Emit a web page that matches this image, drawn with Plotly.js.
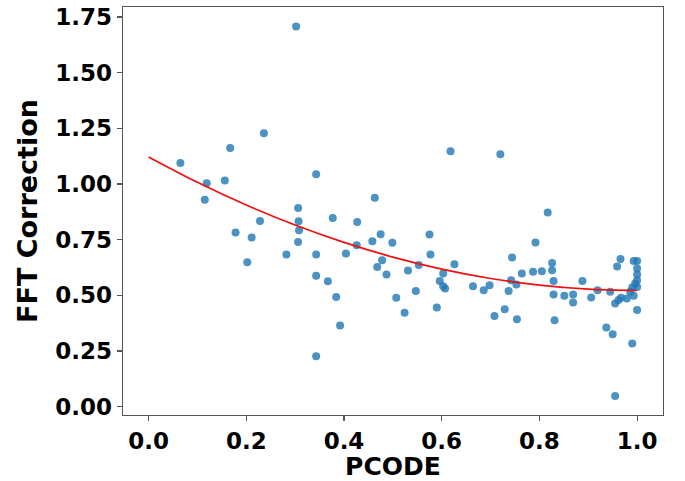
<!DOCTYPE html>
<html>
<head>
<meta charset="utf-8">
<script src="https://cdn.plot.ly/plotly-3.0.1.min.js"></script>
<style>html,body{margin:0;padding:0;background:#fff;}#chart{width:685px;height:481px;}</style>
</head>
<body>
<div id="chart"></div>
<script>
const pcode = [0.065,0.119,0.156,0.115,0.167,0.236,0.302,0.343,0.306,0.307,0.308,0.306,0.228,0.178,0.211,0.202,0.282,0.343,0.343,0.367,0.384,0.392,0.343,0.377,0.404,0.427,0.426,0.458,0.463,0.475,0.499,0.478,0.468,0.487,0.507,0.524,0.531,0.547,0.553,0.575,0.577,0.590,0.603,0.596,0.603,0.607,0.618,0.626,0.664,0.686,0.698,0.708,0.720,0.729,0.737,0.742,0.744,0.753,0.754,0.764,0.787,0.792,0.805,0.817,0.826,0.826,0.829,0.829,0.831,0.851,0.869,0.869,0.888,0.906,0.919,0.937,0.945,0.950,0.955,0.955,0.959,0.966,0.962,0.967,0.979,0.986,0.990,0.990,0.993,0.993,0.996,1.000,1.000,1.000,1.000,1.000,1.000];
const fftCorrection = [1.095,1.004,1.016,0.930,1.162,1.228,1.708,1.044,0.893,0.833,0.793,0.740,0.834,0.782,0.760,0.649,0.684,0.684,0.588,0.564,0.493,0.365,0.227,0.848,0.688,0.830,0.725,0.743,0.938,0.775,0.736,0.658,0.628,0.594,0.489,0.422,0.612,0.520,0.636,0.773,0.684,0.446,0.598,0.565,0.541,0.531,1.147,0.640,0.541,0.523,0.546,0.407,1.134,0.438,0.520,0.568,0.670,0.549,0.393,0.598,0.606,0.737,0.609,0.872,0.646,0.613,0.565,0.504,0.389,0.498,0.504,0.468,0.565,0.491,0.523,0.356,0.516,0.326,0.048,0.464,0.630,0.663,0.479,0.489,0.486,0.516,0.284,0.536,0.498,0.655,0.553,0.655,0.621,0.594,0.568,0.538,0.434];
const fitX = [0.0,0.1,0.2,0.3,0.4,0.5,0.6,0.7,0.8,0.9,1.0];
const fitY = [1.122,1.008,0.906,0.816,0.738,0.672,0.618,0.576,0.546,0.528,0.522];
const xTicks = [0.0,0.2,0.4,0.6,0.8,1.0];
const xTickText = ['0.0','0.2','0.4','0.6','0.8','1.0'];
const yTicks = [0,0.25,0.5,0.75,1.0,1.25,1.5,1.75];
const yTickText = ['0.00','0.25','0.50','0.75','1.00','1.25','1.50','1.75'];

const font = 'DejaVu Sans, sans-serif';
const traces = [
  {x: pcode, y: fftCorrection, type: 'scatter', mode: 'markers',
   marker: {color: '#1f77b4', opacity: 0.8, size: 8, line: {width: 0}}, hoverinfo: 'none'},
  {x: fitX, y: fitY, type: 'scatter', mode: 'lines',
   line: {color: '#f01010', width: 1.7, shape: 'spline'}, hoverinfo: 'none'}
];
const axisCommon = {
  showgrid: false, zeroline: false, showline: true, mirror: true,
  linecolor: '#555', linewidth: 1.3, ticks: 'outside', ticklen: 5, tickwidth: 1.2, tickcolor: '#555',
  tickfont: {family: font, size: 23, color: '#000', weight: 'bold'}
};
const layout = {
  width: 685, height: 481,
  margin: {l: 123, r: 22, t: 7, b: 66},
  paper_bgcolor: '#fff', plot_bgcolor: '#fff',
  showlegend: false,
  xaxis: Object.assign({}, axisCommon, {
    range: [-0.0524, 1.053], tickvals: xTicks, ticktext: xTickText,
    title: {text: '<b>PCODE</b>', font: {family: font, size: 25, color: '#000'}, standoff: 6}
  }),
  yaxis: Object.assign({}, axisCommon, {
    range: [-0.037, 1.795], tickvals: yTicks, ticktext: yTickText,
    title: {text: '<b>FFT Correction</b>', font: {family: font, size: 27, color: '#000'}, standoff: 10}
  })
};
Plotly.newPlot('chart', traces, layout, {staticPlot: true, displayModeBar: false});
</script>
</body>
</html>
